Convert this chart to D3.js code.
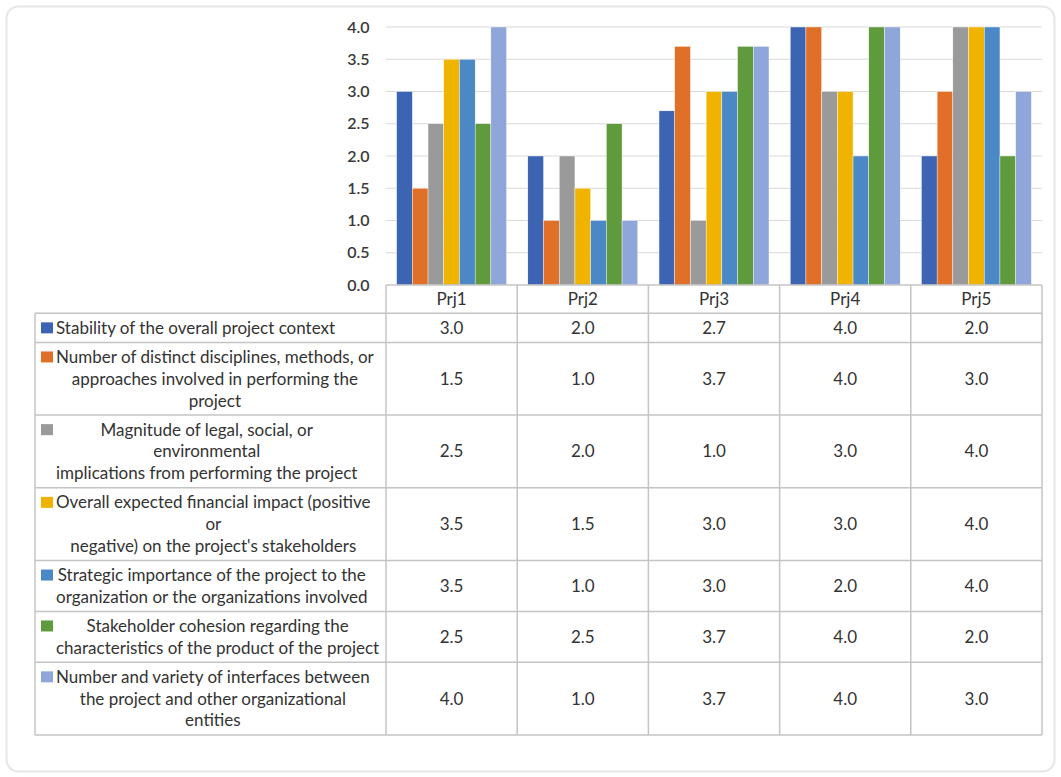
<!DOCTYPE html>
<html>
<head>
<meta charset="utf-8">
<script src="https://cdn.jsdelivr.net/npm/d3@7"></script>
<style>
  html, body { margin: 0; padding: 0; background: #ffffff; }
  svg { display: block; font-family: "Lato", "Open Sans", sans-serif; }
</style>
</head>
<body>
<div id="chart"></div>
<script>
// Project categories along the x axis
const projects = ["Prj1", "Prj2", "Prj3", "Prj4", "Prj5"];

// Scores per criterion, one value per project
const stability      = [3.0, 2.0, 2.7, 4.0, 2.0];
const disciplines    = [1.5, 1.0, 3.7, 4.0, 3.0];
const magnitude      = [2.5, 2.0, 1.0, 3.0, 4.0];
const financial      = [3.5, 1.5, 3.0, 3.0, 4.0];
const strategic      = [3.5, 1.0, 3.0, 2.0, 4.0];
const cohesion       = [2.5, 2.5, 3.7, 4.0, 2.0];
const interfaces     = [4.0, 1.0, 3.7, 4.0, 3.0];

// Criterion names, already broken into the lines shown in the table
const seriesLabels = [
  ["Stability of the overall project context"],
  ["Number of distinct disciplines, methods, or", "approaches involved in performing the", "project"],
  ["Magnitude of legal, social, or", "environmental", "implications from performing the project"],
  ["Overall expected financial impact (positive", "or", "negative) on the project's stakeholders"],
  ["Strategic importance of the project to the", "organization or the organizations involved"],
  ["Stakeholder cohesion regarding the", "characteristics of the product of the project"],
  ["Number and variety of interfaces between", "the project and other organizational", "entities"]
];

const seriesValues = [stability, disciplines, magnitude, financial, strategic, cohesion, interfaces];

const seriesColors = ["#3d63b3", "#e07028", "#9a9a9a", "#efb300", "#4a88c6", "#5f9a3c", "#8ea6da"];

// Y axis ticks
const yTicks = [0.0, 0.5, 1.0, 1.5, 2.0, 2.5, 3.0, 3.5, 4.0];

const W = 1061, H = 777;
const svg = d3.select("#chart").append("svg")
  .attr("width", W).attr("height", H);

// Card frame
svg.append("rect")
  .attr("x", 6.5).attr("y", 6.5)
  .attr("width", 1048).attr("height", 765)
  .attr("rx", 12).attr("ry", 12)
  .attr("fill", "#ffffff")
  .attr("stroke", "#e6e6e6")
  .attr("stroke-width", 2);

// Plot geometry
const plotLeft = 386, plotRight = 1042;
const yTop = 27, yBottom = 285;

const x0 = d3.scaleBand()
  .domain(projects)
  .range([plotLeft, plotRight])
  .paddingInner(0.162)
  .paddingOuter(0.081);

const colStep = x0.step();

const x1 = d3.scaleBand()
  .domain(d3.range(seriesValues.length))
  .range([0, x0.bandwidth()])
  .padding(0);

const y = d3.scaleLinear()
  .domain([0, 4])
  .range([yBottom, yTop]);

// Gridlines
svg.append("g")
  .selectAll("line")
  .data(yTicks.filter(t => t > 0))
  .join("line")
  .attr("x1", plotLeft).attr("x2", plotRight)
  .attr("y1", d => y(d)).attr("y2", d => y(d))
  .attr("stroke", "#d9d9d9")
  .attr("stroke-width", 1);

// Y axis labels
const yAxis = d3.axisLeft(y)
  .tickValues(yTicks)
  .tickFormat(d3.format(".1f"))
  .tickSize(0)
  .tickPadding(0);

const yAxisG = svg.append("g")
  .attr("transform", `translate(${plotLeft - 16.5},0)`)
  .call(yAxis);
yAxisG.select(".domain").remove();
yAxisG.selectAll("text")
  .attr("font-family", "Lato, sans-serif")
  .attr("font-size", 16)
  .attr("font-weight", 600)
  .attr("fill", "#3a3a3a");

// Bars
const groups = svg.append("g")
  .selectAll("g")
  .data(projects)
  .join("g")
  .attr("transform", d => `translate(${x0(d)},0)`);

groups.selectAll("rect")
  .data((p, pi) => seriesValues.map((vals, si) => ({ si, v: vals[pi] })))
  .join("rect")
  .attr("x", d => x1(d.si))
  .attr("width", x1.bandwidth())
  .attr("y", d => y(d.v))
  .attr("height", d => y(0) - y(d.v))
  .attr("fill", d => seriesColors[d.si])
  .attr("stroke", "#ffffff")
  .attr("stroke-width", 0.4);

// Data table
const lineH = 21.8, pad = 7.3;
const tableLeft = 35;
const labelLeft = 56;
const headerTop = yBottom, headerBottom = 313.3;
const gridColor = "#c4c4c4";
const textColor = "#333333";
const fontSize = 17;

const rowTops = [];
let acc = headerBottom;
seriesLabels.forEach(lines => {
  rowTops.push(acc);
  acc += lines.length * lineH + pad;
});
const tableBottom = acc;

const table = svg.append("g");

// Horizontal lines
table.append("line")
  .attr("x1", plotLeft).attr("x2", plotRight)
  .attr("y1", headerTop).attr("y2", headerTop)
  .attr("stroke", gridColor).attr("stroke-width", 1.5);
[...rowTops, tableBottom].forEach(yy => {
  table.append("line")
    .attr("x1", tableLeft).attr("x2", plotRight)
    .attr("y1", yy).attr("y2", yy)
    .attr("stroke", gridColor).attr("stroke-width", 1.5);
});

// Vertical lines
table.append("line")
  .attr("x1", tableLeft).attr("x2", tableLeft)
  .attr("y1", headerBottom).attr("y2", tableBottom)
  .attr("stroke", gridColor).attr("stroke-width", 1.5);
d3.range(projects.length + 1).forEach(i => {
  const xx = plotLeft + i * colStep;
  table.append("line")
    .attr("x1", xx).attr("x2", xx)
    .attr("y1", headerTop).attr("y2", tableBottom)
    .attr("stroke", gridColor).attr("stroke-width", 1.5);
});

// Header labels
table.selectAll("text.hdr")
  .data(projects)
  .join("text")
  .attr("class", "hdr")
  .attr("x", d => x0(d) + x0.bandwidth() / 2)
  .attr("y", (headerTop + headerBottom) / 2)
  .attr("dy", "0.35em")
  .attr("text-anchor", "middle")
  .attr("font-size", fontSize)
  .attr("fill", textColor)
  .text(d => d);

// Row labels with legend keys and values
seriesLabels.forEach((lines, si) => {
  const top = rowTops[si];
  const h = lines.length * lineH + pad;
  const mid = top + h / 2;
  const firstLine = mid - (lines.length - 1) * lineH / 2;

  table.append("rect")
    .attr("x", 41).attr("y", firstLine - 5.5)
    .attr("width", 12).attr("height", 11)
    .attr("fill", seriesColors[si]);

  // Lines are centred on each other; the block starts right after the key
  const texts = lines.map((ln, li) => table.append("text")
    .attr("y", firstLine + li * lineH)
    .attr("dy", "0.35em")
    .attr("text-anchor", "middle")
    .attr("font-size", fontSize)
    .attr("fill", textColor)
    .text(ln));
  const maxW = d3.max(texts, t => t.node().getComputedTextLength());
  texts.forEach(t => t.attr("x", labelLeft + maxW / 2));

  seriesValues[si].forEach((v, pi) => {
    table.append("text")
      .attr("x", x0(projects[pi]) + x0.bandwidth() / 2)
      .attr("y", mid)
      .attr("dy", "0.35em")
      .attr("text-anchor", "middle")
      .attr("font-size", fontSize)
      .attr("fill", textColor)
      .text(d3.format(".1f")(v));
  });
});
</script>
</body>
</html>
